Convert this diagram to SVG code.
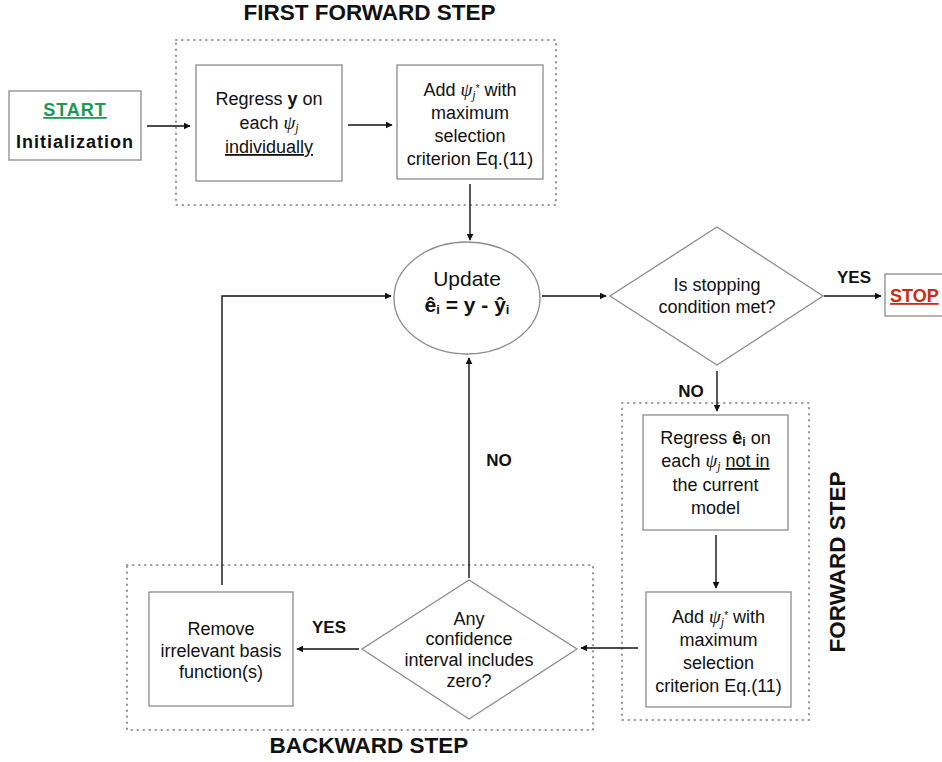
<svg xmlns="http://www.w3.org/2000/svg" width="942" height="762" viewBox="0 0 942 762">
  <style>
    text { font-family: "Liberation Sans", Arial, Helvetica, sans-serif; fill: #111; }
    .box { fill: #fff; stroke: #8c8c8c; stroke-width: 1.3; }
    .group { fill: none; stroke: #9a9a9a; stroke-width: 2.2; stroke-dasharray: 0.5 5.5; stroke-linecap: round; }
    .lbl { font-size: 18px; text-anchor: middle; }
    .sec { font-size: 22.5px; font-weight: bold; text-anchor: middle; }
    .tag { font-size: 17px; font-weight: bold; text-anchor: middle; }
    .conn { fill: none; stroke: #111; stroke-width: 1.4; marker-end: url(#arrow); }
    .psi { font-family: "Liberation Serif", "DejaVu Serif", serif; font-style: italic; font-size: 19px; }
  </style>
  <defs>
    <marker id="arrow" viewBox="0 0 10 10" refX="9" refY="5" markerWidth="7" markerHeight="7" markerUnits="userSpaceOnUse" orient="auto">
      <path d="M0,0 L10,5 L0,10 z" fill="#111"/>
    </marker>
  </defs>

  <rect width="942" height="762" fill="#fff"/>

  <!-- stage groupings -->
  <g id="first-forward-step">
    <rect class="group" x="176" y="40" width="380" height="165"/>
    <text class="sec" x="369.5" y="20">FIRST FORWARD STEP</text>
  </g>
  <g id="forward-step">
    <rect class="group" x="622" y="403" width="187" height="317"/>
    <text class="sec" x="845" y="562" transform="rotate(-90 845 562)">FORWARD STEP</text>
  </g>
  <g id="backward-step">
    <rect class="group" x="127" y="565" width="466" height="165"/>
    <text class="sec" x="369" y="753">BACKWARD STEP</text>
  </g>

  <!-- connectors -->
  <g id="connectors">
    <line class="conn" x1="147" y1="126" x2="190" y2="126"/>
    <line class="conn" x1="348" y1="125" x2="392" y2="125"/>
    <line class="conn" x1="470" y1="184" x2="470" y2="240"/>
    <line class="conn" x1="542" y1="296" x2="606" y2="296"/>
    <line class="conn" x1="824" y1="296" x2="881" y2="296"/>
    <line class="conn" x1="717" y1="371" x2="717" y2="411"/>
    <line class="conn" x1="716" y1="535" x2="716" y2="588"/>
    <line class="conn" x1="638" y1="648" x2="581" y2="648"/>
    <line class="conn" x1="359" y1="649" x2="297" y2="649"/>
    <polyline class="conn" points="222,585 222,296 391,296"/>
    <line class="conn" x1="469" y1="578" x2="469" y2="358"/>
    <text class="tag" x="854" y="283">YES</text>
    <text class="tag" x="691" y="397">NO</text>
    <text class="tag" x="499" y="466">NO</text>
    <text class="tag" x="329" y="633">YES</text>
  </g>

  <!-- nodes -->
  <g id="start">
    <rect class="box" x="9" y="91" width="132" height="69"/>
    <text x="75" y="116" text-anchor="middle" font-size="18" font-weight="bold" letter-spacing="1" style="fill:#1a9a55" text-decoration="underline">START</text>
    <text x="75" y="148" text-anchor="middle" font-size="18" font-weight="bold" letter-spacing="1">Initialization</text>
  </g>

  <g id="regress-y">
    <rect class="box" x="196" y="65" width="146" height="116"/>
    <text class="lbl" x="269" y="105">Regress <tspan font-weight="bold">y</tspan> on</text>
    <text class="lbl" x="269" y="129">each <tspan class="psi">ψ</tspan><tspan class="psi" font-size="12" style="font-size:12px" dy="3">j</tspan></text>
    <text class="lbl" x="269" y="153" text-decoration="underline">individually</text>
  </g>

  <g id="add-first">
    <rect class="box" x="397" y="65" width="146" height="114"/>
    <text class="lbl" x="470" y="96">Add <tspan class="psi">ψ</tspan><tspan class="psi" style="font-size:12px" dy="3">j</tspan><tspan font-size="10" dy="-7">*</tspan><tspan dy="4"> with</tspan></text>
    <text class="lbl" x="470" y="119">maximum</text>
    <text class="lbl" x="470" y="142">selection</text>
    <text class="lbl" x="470" y="165">criterion Eq.(11)</text>
  </g>

  <g id="update">
    <ellipse cx="467" cy="298" rx="73" ry="56" fill="#fff" stroke="#8c8c8c" stroke-width="1.3"/>
    <text x="467" y="286" text-anchor="middle" font-size="21">Update</text>
    <text x="467" y="312" text-anchor="middle" font-size="21" font-weight="bold">ê<tspan font-size="13" dy="2">i</tspan><tspan dy="-2"> = y - ŷ</tspan><tspan font-size="13" dy="2">i</tspan></text>
  </g>

  <g id="stop-check">
    <polygon points="717,227 823,296 717,365 610,296" fill="#fff" stroke="#8c8c8c" stroke-width="1.3"/>
    <text class="lbl" x="717" y="291">Is stopping</text>
    <text class="lbl" x="717" y="313">condition met?</text>
  </g>

  <g id="stop">
    <rect class="box" x="885" y="274" width="62" height="42"/>
    <text x="890" y="302" font-size="18" font-weight="bold" style="fill:#cc2a14" text-decoration="underline">STOP</text>
  </g>

  <g id="regress-residual">
    <rect class="box" x="643" y="415" width="145" height="115"/>
    <text class="lbl" x="715.5" y="444">Regress <tspan font-weight="bold">ê</tspan><tspan font-weight="bold" font-size="12" dy="2">i</tspan><tspan dy="-2"> on</tspan></text>
    <text class="lbl" x="715.5" y="467">each <tspan class="psi">ψ</tspan><tspan class="psi" style="font-size:12px" dy="3">j</tspan><tspan dy="-3"> </tspan><tspan text-decoration="underline">not in</tspan></text>
    <text class="lbl" x="715.5" y="491">the current</text>
    <text class="lbl" x="715.5" y="514">model</text>
  </g>

  <g id="add-forward">
    <rect class="box" x="646" y="592" width="145" height="115"/>
    <text class="lbl" x="718.5" y="623">Add <tspan class="psi">ψ</tspan><tspan class="psi" style="font-size:12px" dy="3">j</tspan><tspan font-size="10" dy="-7">*</tspan><tspan dy="4"> with</tspan></text>
    <text class="lbl" x="718.5" y="646">maximum</text>
    <text class="lbl" x="718.5" y="669">selection</text>
    <text class="lbl" x="718.5" y="692">criterion Eq.(11)</text>
  </g>

  <g id="interval-check">
    <polygon points="469,580 577,649 469,719 362,649" fill="#fff" stroke="#8c8c8c" stroke-width="1.3"/>
    <text class="lbl" x="469" y="625">Any</text>
    <text class="lbl" x="469" y="645">confidence</text>
    <text class="lbl" x="469" y="666">interval includes</text>
    <text class="lbl" x="469" y="687">zero?</text>
  </g>

  <g id="remove">
    <rect class="box" x="149" y="592" width="144" height="114"/>
    <text class="lbl" x="221" y="635">Remove</text>
    <text class="lbl" x="221" y="657">irrelevant basis</text>
    <text class="lbl" x="221" y="678">function(s)</text>
  </g>
</svg>
